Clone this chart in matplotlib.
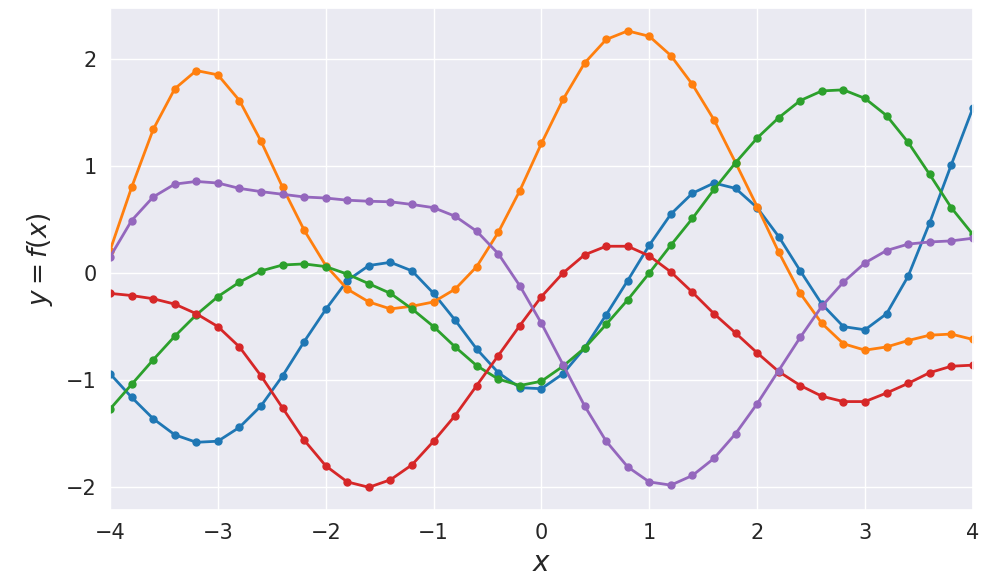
import numpy as np
import matplotlib
matplotlib.use('Agg')
import matplotlib.pyplot as plt
import seaborn as sns

sns.set_theme(style='darkgrid')
plt.rcParams['font.family'] = ['DejaVu Sans']

# sample points
x = np.linspace(-4, 4, 41)

blue = [-0.94, -1.16, -1.36, -1.51, -1.58, -1.57, -1.44, -1.24, -0.96, -0.64,
        -0.34, -0.07, 0.07, 0.10, 0.02, -0.19, -0.44, -0.71, -0.93, -1.07,
        -1.08, -0.94, -0.70, -0.39, -0.07, 0.26, 0.55, 0.745, 0.84, 0.79,
        0.61, 0.34, 0.02, -0.29, -0.50, -0.53, -0.38, -0.03, 0.47, 1.01, 1.54]
orange = [0.21, 0.80, 1.34, 1.72, 1.89, 1.85, 1.61, 1.23, 0.80, 0.40,
          0.07, -0.15, -0.27, -0.335, -0.31, -0.27, -0.15, 0.06, 0.38, 0.77,
          1.21, 1.62, 1.96, 2.18, 2.26, 2.21, 2.03, 1.76, 1.43, 1.03,
          0.62, 0.195, -0.19, -0.47, -0.66, -0.72, -0.69, -0.63, -0.58, -0.57, -0.62]
green = [-1.27, -1.04, -0.81, -0.59, -0.39, -0.22, -0.085, 0.02, 0.075, 0.085,
         0.06, -0.01, -0.10, -0.19, -0.335, -0.50, -0.69, -0.865, -0.99, -1.05,
         -1.01, -0.87, -0.70, -0.48, -0.25, 0.0, 0.26, 0.51, 0.78, 1.03,
         1.26, 1.45, 1.61, 1.70, 1.71, 1.63, 1.47, 1.22, 0.92, 0.61, 0.36]
red = [-0.19, -0.21, -0.24, -0.29, -0.38, -0.50, -0.69, -0.96, -1.26, -1.56,
       -1.80, -1.95, -2.00, -1.93, -1.79, -1.57, -1.33, -1.05, -0.77, -0.49,
       -0.22, 0.0, 0.17, 0.25, 0.25, 0.16, 0.01, -0.18, -0.38, -0.56,
       -0.745, -0.92, -1.05, -1.15, -1.20, -1.20, -1.12, -1.03, -0.93, -0.87, -0.86]
purple = [0.15, 0.49, 0.71, 0.83, 0.855, 0.84, 0.79, 0.76, 0.735, 0.71,
          0.70, 0.68, 0.67, 0.665, 0.64, 0.61, 0.53, 0.39, 0.18, -0.12,
          -0.47, -0.855, -1.24, -1.57, -1.81, -1.95, -1.98, -1.89, -1.73, -1.50,
          -1.22, -0.91, -0.60, -0.31, -0.085, 0.095, 0.21, 0.27, 0.29, 0.30, 0.325]

samples = [blue, orange, green, red, purple]
colors = ['#1f77b4', '#ff7f0e', '#2ca02c', '#d62728', '#9467bd']

fig = plt.figure(figsize=(10.05, 5.79), dpi=100)
ax = fig.add_axes([0.1095, 0.119, 0.8585, 0.867])

for f, c in zip(samples, colors):
    ax.plot(x, f, '-o', color=c, lw=2, ms=5)

ax.set_xlim(-4, 4)
ax.set_xlabel('$x$', fontsize=20, labelpad=4)
ax.set_ylabel('$y = f(x)$', fontsize=19, labelpad=8)
ax.tick_params(labelsize=15)

plt.savefig('out.png', dpi=100)
